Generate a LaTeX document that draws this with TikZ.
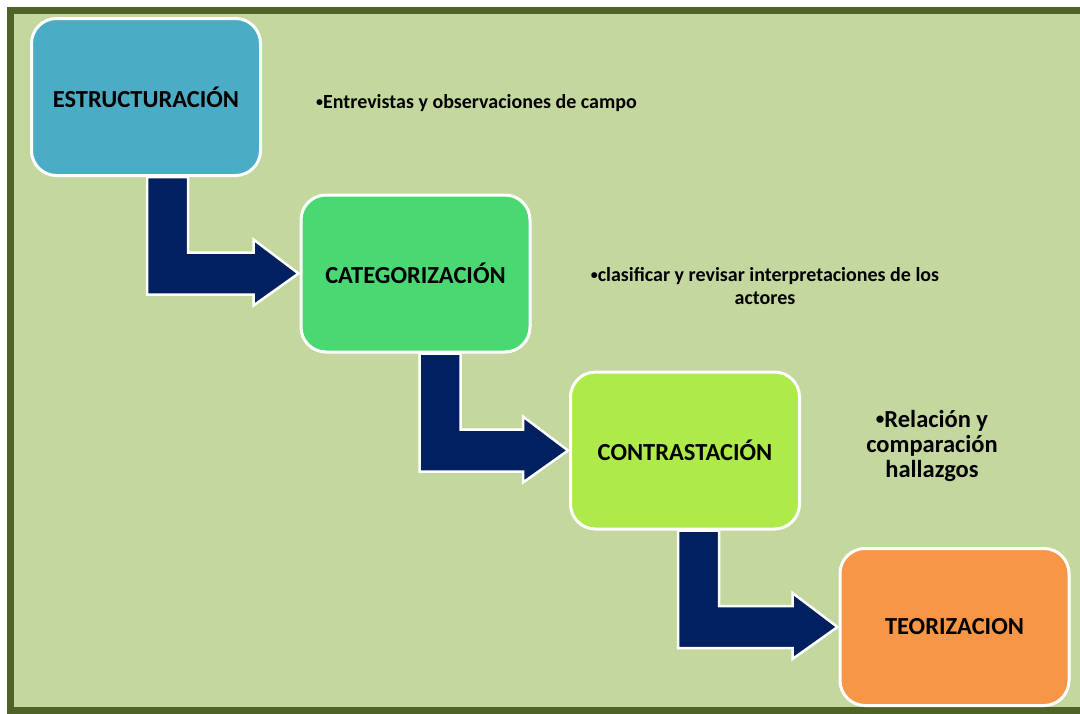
\documentclass[tikz,border=0pt]{standalone}
\usepackage{fontspec}
\setmainfont{Carlito}
\usetikzlibrary{calc}
\definecolor{bgg}{HTML}{C4D79F}
\definecolor{frameg}{HTML}{4F6228}
\definecolor{cblue}{HTML}{4BACC6}
\definecolor{cgreen}{HTML}{4AD872}
\definecolor{clime}{HTML}{ADEA4A}
\definecolor{corange}{HTML}{F79646}
\definecolor{navy}{HTML}{002060}
\tikzset{
  stage/.style={draw=white, line width=3pt, rounded corners=25pt, minimum width=229pt, minimum height=157pt, inner sep=0pt, font=\fontsize{24.5}{29}\selectfont\bfseries},
  note/.style={inner sep=0pt, font=\fontsize{20}{23}\selectfont\bfseries},
  bignote/.style={inner sep=0pt, align=center, font=\fontsize{24.5}{25}\selectfont\bfseries},
  bent/.style={fill=navy, draw=white, line width=2.5pt, line join=miter},
}
\newcommand\smallbul{\raisebox{0.11em}{\scalebox{0.7}{•}}}
\newcommand\bentarrow[3]{%
  \path[bent] let \p1=(#1.south west), \p2=(#2.west) in
    (\x1+#3pt,\y1) -- (\x1+#3pt+41pt,\y1) -- (\x1+#3pt+41pt,\y2+21pt) --
    (\x2-46pt,\y2+21pt) -- (\x2-46pt,\y2+34pt) -- (\x2-1pt,\y2) --
    (\x2-46pt,\y2-32pt) -- (\x2-46pt,\y2-21pt) -- (\x1+#3pt,\y2-21pt) -- cycle;}
\begin{document}
\begin{tikzpicture}[x=1pt,y=-1pt]
\useasboundingbox (0,0) rectangle (1080,713);
\clip (0,0) rectangle (1080,713);
\fill[white] (0,0) rectangle (1080,713);
\draw[frameg, line width=7pt, fill=bgg] (10.5,10.5) rectangle (1100,710.5);
\node[stage, fill=cblue] (b1) at (146,97) {ESTRUCTURACIÓN};
\node[stage, fill=cgreen] (b2) at (415.5,273.5) {CATEGORIZACIÓN};
\node[stage, fill=clime] (b3) at (685,450.5) {CONTRASTACIÓN};
\node[stage, fill=corange] (b4) at (954.5,627) {TEORIZACION};
\bentarrow{b1}{b2}{117}
\bentarrow{b2}{b3}{120}
\bentarrow{b3}{b4}{109}
\node[note, anchor=west] (t1) at (316,103) {\smallbul Entrevistas y observaciones de campo};
\node[note, align=center] (t2) at (765,286) {\smallbul clasificar y revisar interpretaciones de los\\actores};
\node[bignote] (t3) at (932,446) {\smallbul Relación y\\comparación\\hallazgos};
\end{tikzpicture}
\end{document}
